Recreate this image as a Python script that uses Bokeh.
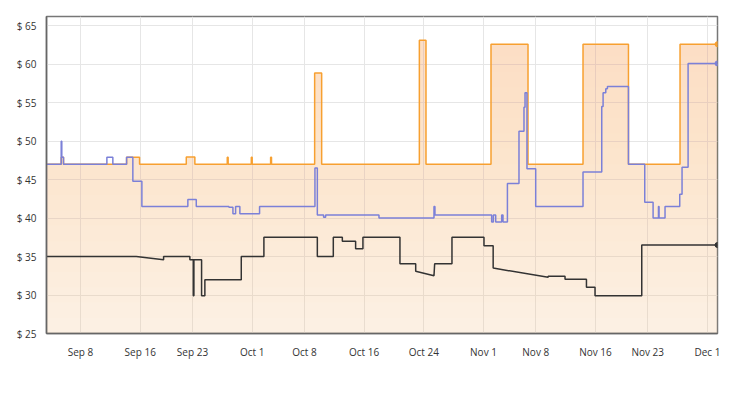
import numpy as np
from bokeh.plotting import figure
from bokeh.models import Range1d, FixedTicker
from bokeh.embed import file_html
from bokeh.resources import INLINE

# ---- axis ticks (x in days since Sep 1) ----
x_tick_days = [7, 15, 22, 30, 37, 45, 53, 61, 68, 76, 83, 91]
x_tick_labels = ["Sep 8", "Sep 16", "Sep 23", "Oct 1", "Oct 8", "Oct 16",
                 "Oct 24", "Nov 1", "Nov 8", "Nov 16", "Nov 23", "Dec 1"]
y_ticks = [25, 30, 35, 40, 45, 50, 55, 60, 65]
y_tick_labels = ["$ 25", "$ 30", "$ 35", "$ 40", "$ 45", "$ 50", "$ 55", "$ 60", "$ 65"]

# ---- Amazon price (orange): change points, days since Sep 1 ----
amazon_days = [2.44, 4.41, 4.72, 13.17, 14.91, 21.17, 22.32, 26.66, 26.78,
               29.88, 30.00, 32.47, 32.59, 38.37, 39.31, 52.40, 53.29,
               62.00, 66.96, 74.33, 80.42, 87.33, 92.35]
amazon_prices = [47.0, 47.9, 47.0, 47.9, 47.0, 47.95, 47.0, 47.9, 47.0,
                 47.9, 47.0, 47.9, 47.0, 58.85, 47.0, 63.1, 47.0,
                 62.6, 47.0, 62.6, 47.0, 62.6, 62.6]

# ---- 3rd party new (blue): change points ----
new_days = [2.44, 4.41, 4.49, 4.72, 10.53, 11.33, 13.17, 14.01, 15.22, 21.38,
            22.51, 26.88, 27.42, 27.78, 28.35, 30.99, 38.41, 38.73, 39.57, 39.84,
            46.99, 54.36, 54.49, 62.09, 62.32, 62.63, 63.43, 63.61, 64.20, 65.75,
            66.42, 66.56, 66.82, 67.99, 74.33, 76.84, 77.02, 77.38, 77.60, 80.42,
            82.60, 83.72, 84.44, 84.52, 85.32, 87.29, 87.60, 88.41, 92.35]
new_prices = [47.0, 50.0, 47.9, 47.0, 47.9, 47.0, 47.9, 44.8, 41.5, 42.4,
              41.5, 41.4, 40.55, 41.5, 40.55, 41.5, 46.5, 40.4, 40.1, 40.4,
              40.0, 41.5, 40.4, 39.5, 40.4, 39.5, 40.4, 39.5, 44.5, 51.3,
              54.4, 56.3, 46.4, 41.5, 46.0, 54.5, 56.3, 56.8, 57.1, 47.0,
              42.05, 40.0, 41.5, 40.0, 41.5, 43.1, 46.6, 60.1, 60.1]

# ---- 3rd party used (black): polyline vertices ----
used_days = [2.44, 14.47, 18.13, 18.13, 21.65, 21.65, 22.11, 22.11, 22.19, 22.19,
             23.22, 23.22, 23.66, 23.66, 28.54, 28.54, 31.57, 31.57, 38.73, 38.73,
             40.87, 40.87, 42.08, 42.08, 43.86, 43.86, 44.84, 44.84, 49.80, 49.80,
             51.91, 51.91, 54.36, 54.45, 56.77, 56.77, 61.06, 61.06, 62.29, 62.29,
             69.66, 69.66, 71.92, 71.92, 74.79, 74.79, 75.94, 75.94, 82.20, 82.20,
             92.35]
used_prices = [35.0, 35.0, 34.6, 35.0, 35.0, 34.6, 34.6, 29.9, 29.9, 34.6,
               34.6, 29.9, 29.9, 32.0, 32.0, 35.0, 35.0, 37.5, 37.5, 35.0,
               35.0, 37.5, 37.5, 37.0, 37.0, 36.0, 36.0, 37.5, 37.5, 34.05,
               34.05, 33.1, 32.5, 34.05, 34.05, 37.5, 37.5, 36.4, 36.4, 33.5,
               32.3, 32.45, 32.45, 32.05, 32.05, 31.0, 31.0, 29.9, 29.9, 36.5,
               36.5]

Y_MIN, Y_MAX = 25, 66.2

p = figure(width=731, height=378, output_backend="svg", toolbar_location=None,
           x_range=Range1d(amazon_days[0], amazon_days[-1]),
           y_range=Range1d(Y_MIN, Y_MAX),
           min_border_left=46, min_border_right=14, min_border_top=16,
           min_border_bottom=45)
p.background_fill_color = "white"
p.border_fill_color = "white"
p.outline_line_color = "#777777"
p.outline_line_width = 1.5

ax = np.array(amazon_days)
ay = np.array(amazon_prices)

# filled area under Amazon price, with a light vertical gradient
p.varea_step(x=ax, y1=np.full_like(ay, Y_MIN), y2=ay, step_mode="after",
             fill_color="#f5c38e", fill_alpha=0.25)
for lvl in np.arange(27, 64, 2):
    p.varea_step(x=ax, y1=np.full_like(ay, lvl), y2=np.maximum(ay, lvl),
                 step_mode="after", fill_color="#f5c38e", fill_alpha=0.02)

p.step(x=amazon_days, y=amazon_prices, mode="after", line_color="#f7a030", line_width=1.5)
p.step(x=new_days, y=new_prices, mode="after", line_color="#7b80d8", line_width=1.5)
p.line(x=used_days, y=used_prices, line_color="#333333", line_width=1.5)

p.scatter(x=[amazon_days[-1]], y=[amazon_prices[-1]], size=5, fill_color="#f7a030", line_color="#f7a030")
p.scatter(x=[new_days[-1]], y=[new_prices[-1]], size=5, fill_color="#7b80d8", line_color="#7b80d8")
p.scatter(x=[used_days[-1]], y=[used_prices[-1]], size=5, fill_color="#333333", line_color="#333333")

p.xaxis.ticker = FixedTicker(ticks=x_tick_days)
p.xaxis.major_label_overrides = dict(zip(x_tick_days, x_tick_labels))
p.yaxis.ticker = FixedTicker(ticks=y_ticks)
p.yaxis.major_label_overrides = dict(zip(y_ticks, y_tick_labels))

for axis in (p.xaxis, p.yaxis):
    axis.axis_line_color = "#666666"
    axis.axis_line_width = 1.5
    axis.major_tick_line_color = None
    axis.minor_tick_line_color = None
    axis.major_label_text_font = "Open Sans"
    axis.major_label_text_font_size = "10px"
    axis.major_label_text_color = "#333333"
p.xaxis.major_label_standoff = 5
p.yaxis.major_label_standoff = 4

p.xgrid.grid_line_color = "#e6e6e6"
p.ygrid.grid_line_color = "#e6e6e6"

open("out.html", "w").write(file_html(p, INLINE))
